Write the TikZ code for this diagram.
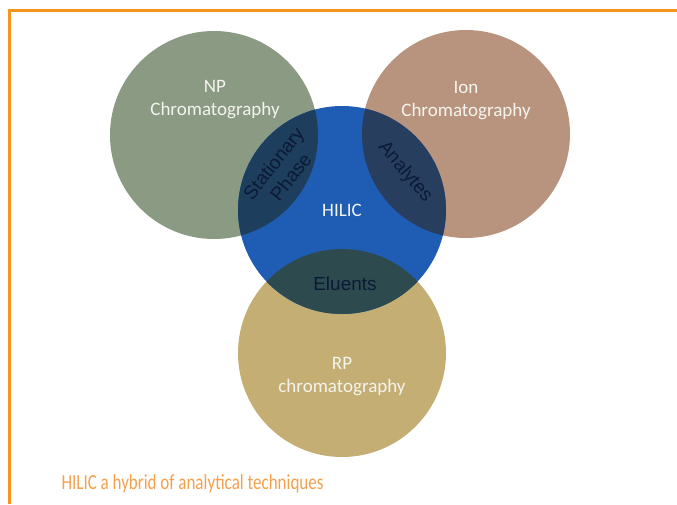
\documentclass[tikz,border=0pt]{standalone}
\usepackage{fontspec}
\setmainfont{Carlito}
\newfontfamily\arialfont{Liberation Sans}
\newfontfamily\capfont[FakeStretch=0.79]{Carlito}
\usetikzlibrary{positioning}

\definecolor{frameorange}{HTML}{F7941D}
\definecolor{captionorange}{HTML}{F5A04C}
\definecolor{npgreen}{HTML}{8A9A83}
\definecolor{iontan}{HTML}{B8947F}
\definecolor{hilicblue}{HTML}{1F5CB4}
\definecolor{rpgold}{HTML}{C4AE73}
\definecolor{npover}{HTML}{1D3E5C}
\definecolor{ionover}{HTML}{283E5F}
\definecolor{rpover}{HTML}{2D4B4F}
\definecolor{darktext}{HTML}{0B1A36}
\definecolor{lighttext}{HTML}{F4F4EE}

\begin{document}
\begin{tikzpicture}[x=1pt, y=-1pt,
        disc/.style={circle, minimum size=208pt, inner sep=0pt},
        lbl/.style={align=center, text=lighttext, font=\fontsize{19}{23}\selectfont},
        ovl/.style={align=center, text=darktext, font=\arialfont\fontsize{19}{22}\selectfont}
    ]
    \useasboundingbox (0,0) rectangle (677,504);
    \draw[frameorange, line width=3pt] (9,504) -- (9,10) -- (677,10);

    % the four techniques
    \node[disc, fill=npgreen]   (np)    at (214,135) {};
    \node[disc, fill=iontan]    (ion)   at (466,134) {};
    \node[disc, fill=rpgold]    (rp)    at (342,353) {};
    \node[disc, fill=hilicblue] (hilic) at (342,210) {};

    % shared parts
    \begin{scope}
        \clip (hilic.center) circle (104pt);
        \fill[npover]  (np.center)  circle (104pt);
        \fill[ionover] (ion.center) circle (104pt);
        \fill[rpover]  (rp.center)  circle (104pt);
    \end{scope}

    \node[lbl] (nptxt)    at (215,100) {NP\\Chromatography};
    \node[lbl] (iontxt)   at (466,101) {Ion\\Chromatography};
    \node[lbl] (rptxt)    at (342,377) {RP\\chromatography};
    \node[lbl] (hilictxt) at (342,210) {HILIC};

    \node[ovl, rotate=52]  (stat) at (282,170) {Stationary\\Phase};
    \node[ovl, rotate=-50] (anal) at (405,172) {Analytes};
    \node[ovl]             (elu)  at (345,284) {Eluents};

    \node[anchor=base west, text=captionorange,
          font=\capfont\fontsize{21.5}{24}\selectfont] (cap) at (58,489)
          {HILIC a hybrid of analytical techniques};
\end{tikzpicture}
\end{document}
